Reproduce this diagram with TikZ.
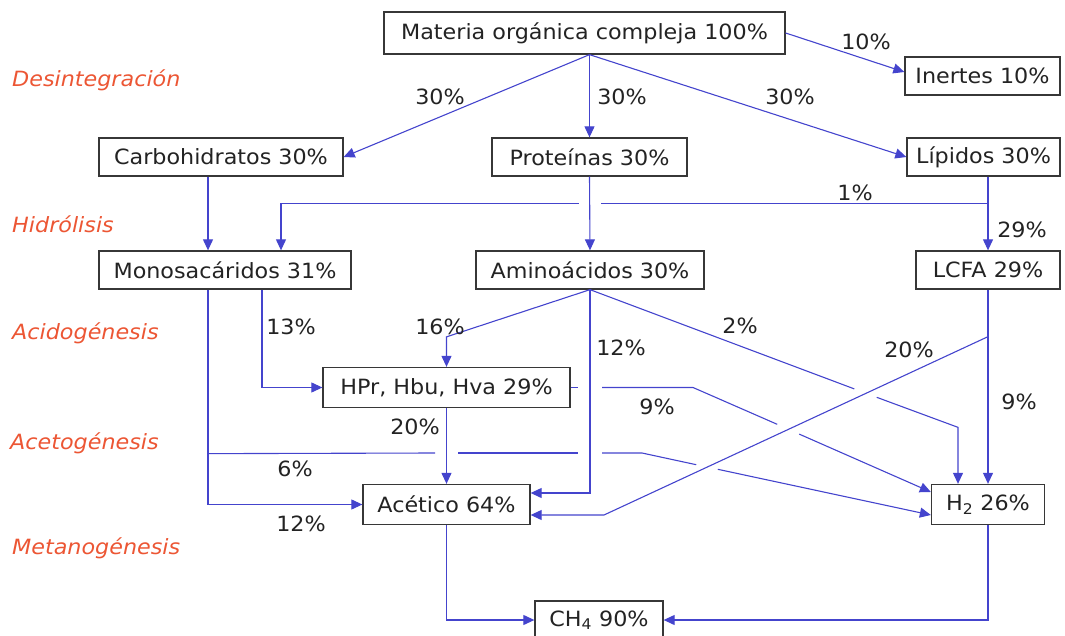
\documentclass[tikz,border=0pt]{standalone}
\usepackage{fontspec}
\setmainfont{DejaVu Sans}[FakeStretch=1.06]
\usetikzlibrary{arrows.meta,calc}
\definecolor{flow}{RGB}{68,68,205}
\definecolor{stage}{RGB}{236,86,52}
\definecolor{frame}{RGB}{55,55,55}
\definecolor{ink}{RGB}{35,35,35}
\begin{document}
\begin{tikzpicture}[x=1pt,y=-1pt,
  txt/.style={font=\fontsize{21}{25}\selectfont},
  box/.style={txt, draw=frame, line width=1.3pt, text=ink, fill=white,
    inner sep=0pt, minimum height=38pt},
  pct/.style={txt, text=ink, inner sep=0pt},
  stagelbl/.style={txt, text=stage, font=\fontsize{21}{25}\selectfont\itshape,
    anchor=west, inner sep=0pt},
  flowline/.style={draw=flow, line width=1.1pt},
  arr/.style={flowline, -{Triangle[length=11pt,width=10pt]}},
]
\useasboundingbox (0,0) rectangle (1065,636);

% process stages
\node[stagelbl] (s1) at (12,80)  {Desintegración};
\node[stagelbl] (s2) at (12,224) {Hidrólisis};
\node[stagelbl] (s3) at (12,333) {Acidogénesis};
\node[stagelbl] (s4) at (10,443) {Acetogénesis};
\node[stagelbl] (s5) at (12,548) {Metanogénesis};

% compartments
\node[box, minimum width=401pt, minimum height=42pt] (mat) at (584.5,33) {Materia orgánica compleja 100\%};
\node[box, minimum width=155pt] (ine) at (982.5,76) {Inertes 10\%};
\node[box, minimum width=244pt] (car) at (221,157) {Carbohidratos 30\%};
\node[box, minimum width=195pt] (pro) at (589.5,157) {Proteínas 30\%};
\node[box, minimum width=153pt] (lip) at (983.5,157) {Lípidos 30\%};
\node[box, minimum width=252pt] (mon) at (225,270) {Monosacáridos 31\%};
\node[box, minimum width=228pt] (ami) at (590,270) {Aminoácidos 30\%};
\node[box, minimum width=144pt] (lcf) at (988,270) {LCFA 29\%};
\node[box, minimum width=247pt, minimum height=40pt] (hpr) at (446.5,387.5) {HPr, Hbu, Hva 29\%};
\node[box, minimum width=167pt, minimum height=40pt] (ace) at (446.5,504.5) {Acético 64\%};
\node[box, minimum width=113pt, minimum height=40pt] (hid) at (988,504.5) {H\textsubscript{2} 26\%};
\node[box, minimum width=128pt, minimum height=38pt] (met) at (599,620) {CH\textsubscript{4} 90\%};

% disintegration
\coordinate (o) at (mat.south -| pro.north);
\draw[arr] (o) -- (car.east);
\draw[arr] (o) -- (pro.north);
\draw[arr] (o) -- (lip.west);
\draw[arr] (mat.east) -- ($(ine.west)+(0,-4)$);

% hydrolysis
\draw[arr] ($(car.south)+(-13,0)$) -- ($(mon.north)+(-17,0)$);
\draw[arr] (pro.south) -- (ami.north);
\draw[arr] (lip.south -| lcf.north) -- (lcf.north);
\coordinate (j1) at ($(lcf.north)+(0,-47)$);
\draw[flowline] (j1) -- ($(j1 -| pro.south)+(11,0)$);
\draw[arr] ($(j1 -| pro.south)+(-11,0)$) -| ($(mon.north)+(56,0)$);

% acidogenesis
\draw[arr] ($(mon.south)+(37,0)$) |- (hpr.west);
\draw[arr] ($(mon.south)+(-17,0)$) |- (ace.west);
\draw[arr] (ami.south) -- ($(hpr.north)+(0,-30)$) -- (hpr.north);
\draw[arr] (ami.south) |- ($(ace.east)+(0,-11.5)$);
\draw[flowline] (ami.south) -- (854.3,388.9);
\draw[arr] (876.7,397.3) -- ($(hid.north)+(-30,-56.5)$) -- ($(hid.north)+(-30,0)$);
\draw[arr] (lcf.south) -- (hid.north);
\coordinate (j2) at ($(lcf.south)+(0,47)$);
\draw[arr] (j2) -- (604,515) -- ($(ace.east)+(0,10.5)$);

% acetogenesis
\draw[arr] (hpr.south) -- (ace.north);
\draw[flowline] (hpr.east) -- (578,387.5);
\draw[flowline] (602,387.5) -- (693,387.5) -- (777.2,424.3);
\draw[arr] (799.2,434.1) -- ($(hid.west)+(0,-12.5)$);
\coordinate (j3) at ($(mon.south)+(-17,0)$);
\draw[flowline] ($(j3)+(0,164)$) -- (435,453);
\draw[flowline] (458,453) -- (578,453);
\draw[flowline] (602,453) -- (642,453) -- (696.2,464.7);
\draw[arr] (717.8,469.3) -- ($(hid.west)+(0,10.5)$);

% methanogenesis
\draw[arr] (ace.south) |- (met.west);
\draw[arr] (hid.south) |- (met.east);

% fractions
\node[pct] (p1)  at (440,97)   {30\%};
\node[pct] (p2)  at (622,97)   {30\%};
\node[pct] (p3)  at (790,97)   {30\%};
\node[pct] (p4)  at (866,42)   {10\%};
\node[pct] (p5)  at (855,193)  {1\%};
\node[pct] (p6)  at (1022,230) {29\%};
\node[pct] (p7)  at (291,327)  {13\%};
\node[pct] (p8)  at (440,327)  {16\%};
\node[pct] (p9)  at (621,348)  {12\%};
\node[pct] (p10) at (740,326)  {2\%};
\node[pct] (p11) at (909,350)  {20\%};
\node[pct] (p12) at (657,407)  {9\%};
\node[pct] (p13) at (1019,402) {9\%};
\node[pct] (p14) at (415,427)  {20\%};
\node[pct] (p15) at (295,469)  {6\%};
\node[pct] (p16) at (301,524)  {12\%};
\end{tikzpicture}
\end{document}
